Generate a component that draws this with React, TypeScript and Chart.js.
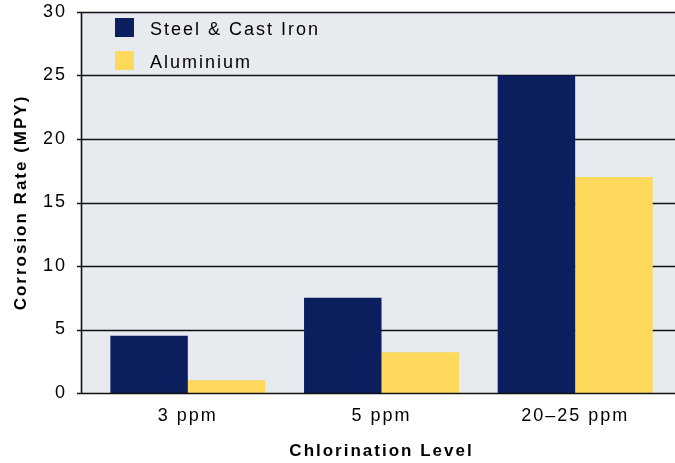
import React, { useEffect, useRef } from 'react';
import { Chart, registerables } from 'chart.js';

Chart.register(...registerables);

const categories = ['3 ppm', '5 ppm', '20–25 ppm'];
const seriesNames = ['Steel & Cast Iron', 'Aluminium'];
const steelValues = [4.5, 7.5, 25];
const aluminiumValues = [1.0, 3.2, 17];
const yTicks = [0, 5, 10, 15, 20, 25, 30];
const xTitle = 'Chlorination Level';
const yTitle = 'Corrosion Rate (MPY)';

const NAVY = '#0b1f5f';
const YELLOW = '#fed95b';
const BG = '#e7eaef';
const INK = '#111111';
const TEXT = '#000000';
const FONT = "'Liberation Sans', Arial, sans-serif";
const SPACING = '2px';
const AXIS_X = 81;

const framePlugin = {
  id: 'frame',
  beforeUpdate(chart: any) {
    chart.ctx.letterSpacing = SPACING;
  },
  beforeDraw(chart: any) {
    const { ctx, chartArea, scales } = chart;
    ctx.letterSpacing = SPACING;
    ctx.save();
    ctx.fillStyle = BG;
    ctx.fillRect(AXIS_X, chartArea.top, chart.width - AXIS_X, chartArea.bottom - chartArea.top);
    ctx.strokeStyle = INK;
    ctx.lineWidth = 1.6;
    for (const v of yTicks) {
      if (v === 0) continue;
      const y = Math.round(scales.y.getPixelForValue(v)) + 0.5;
      ctx.beginPath();
      ctx.moveTo(AXIS_X - 4, y);
      ctx.lineTo(chart.width, y);
      ctx.stroke();
    }
    ctx.restore();
  },
  afterDatasetsDraw(chart: any) {
    const { ctx, chartArea, scales } = chart;
    ctx.save();
    ctx.strokeStyle = INK;
    ctx.lineWidth = 1.6;
    const y0 = Math.round(scales.y.getPixelForValue(0)) + 0.5;
    ctx.beginPath();
    ctx.moveTo(AXIS_X + 0.5, chartArea.top);
    ctx.lineTo(AXIS_X + 0.5, y0);
    ctx.moveTo(AXIS_X - 4, y0);
    ctx.lineTo(chart.width, y0);
    ctx.stroke();

    // legend
    ctx.font = `18px ${FONT}`;
    ctx.letterSpacing = SPACING;
    ctx.textBaseline = 'middle';
    ctx.textAlign = 'left';
    chart.data.datasets.forEach((ds: any, i: number) => {
      const cy = 27.5 + i * 33;
      ctx.fillStyle = ds.backgroundColor;
      ctx.fillRect(115, cy - 9.5, 19, 19);
      ctx.fillStyle = TEXT;
      ctx.fillText(ds.label, 150, cy + 2.5);
    });
    ctx.restore();
  },
};

export default function App() {
  const ref = useRef<HTMLCanvasElement | null>(null);
  useEffect(() => {
    document.body.style.margin = '0';
    const canvas = ref.current!;
    const chart = new Chart(canvas, {
      type: 'bar',
      data: {
        labels: categories,
        datasets: [
          { label: seriesNames[0], data: steelValues, backgroundColor: NAVY, borderWidth: 0 },
          { label: seriesNames[1], data: aluminiumValues, backgroundColor: YELLOW, borderWidth: 0 },
        ],
      },
      options: {
        animation: false,
        responsive: false,
        devicePixelRatio: 1,
        layout: { padding: { left: 0, right: 3, top: 12, bottom: 0 } },
        datasets: { bar: { categoryPercentage: 0.8, barPercentage: 1.0 } },
        plugins: { legend: { display: false }, tooltip: { enabled: false } },
        scales: {
          x: {
            grid: { display: false },
            border: { display: false },
            ticks: { font: { family: FONT, size: 18 }, color: TEXT, padding: 4, maxRotation: 0 },
            title: {
              display: true,
              text: xTitle,
              font: { family: FONT, size: 17, weight: 'bold' },
              color: TEXT,
              padding: { top: 0, bottom: 1 },
            },
            afterFit: (s: any) => {
              s.height = 70;
              s.paddingLeft = 0;
              s.paddingRight = 0;
            },
          },
          y: {
            min: 0,
            max: 30,
            grid: { display: false },
            border: { display: false },
            ticks: {
              stepSize: 5,
              font: { family: FONT, size: 18 },
              color: TEXT,
              padding: 16,
            },
            title: {
              display: true,
              text: yTitle,
              font: { family: FONT, size: 17, weight: 'bold' },
              color: TEXT,
              padding: { top: 11, bottom: 0 },
            },
            afterFit: (s: any) => {
              s.width = 91;
              s.paddingTop = 0;
              s.paddingBottom = 0;
            },
          },
        },
      } as any,
      plugins: [framePlugin],
    });
    return () => chart.destroy();
  }, []);
  return (
    <div style={{ position: 'absolute', left: 0, top: 0, width: 675, height: 463, background: '#fff' }}>
      <canvas ref={ref} width={675} height={463} style={{ display: 'block' }} />
    </div>
  );
}
